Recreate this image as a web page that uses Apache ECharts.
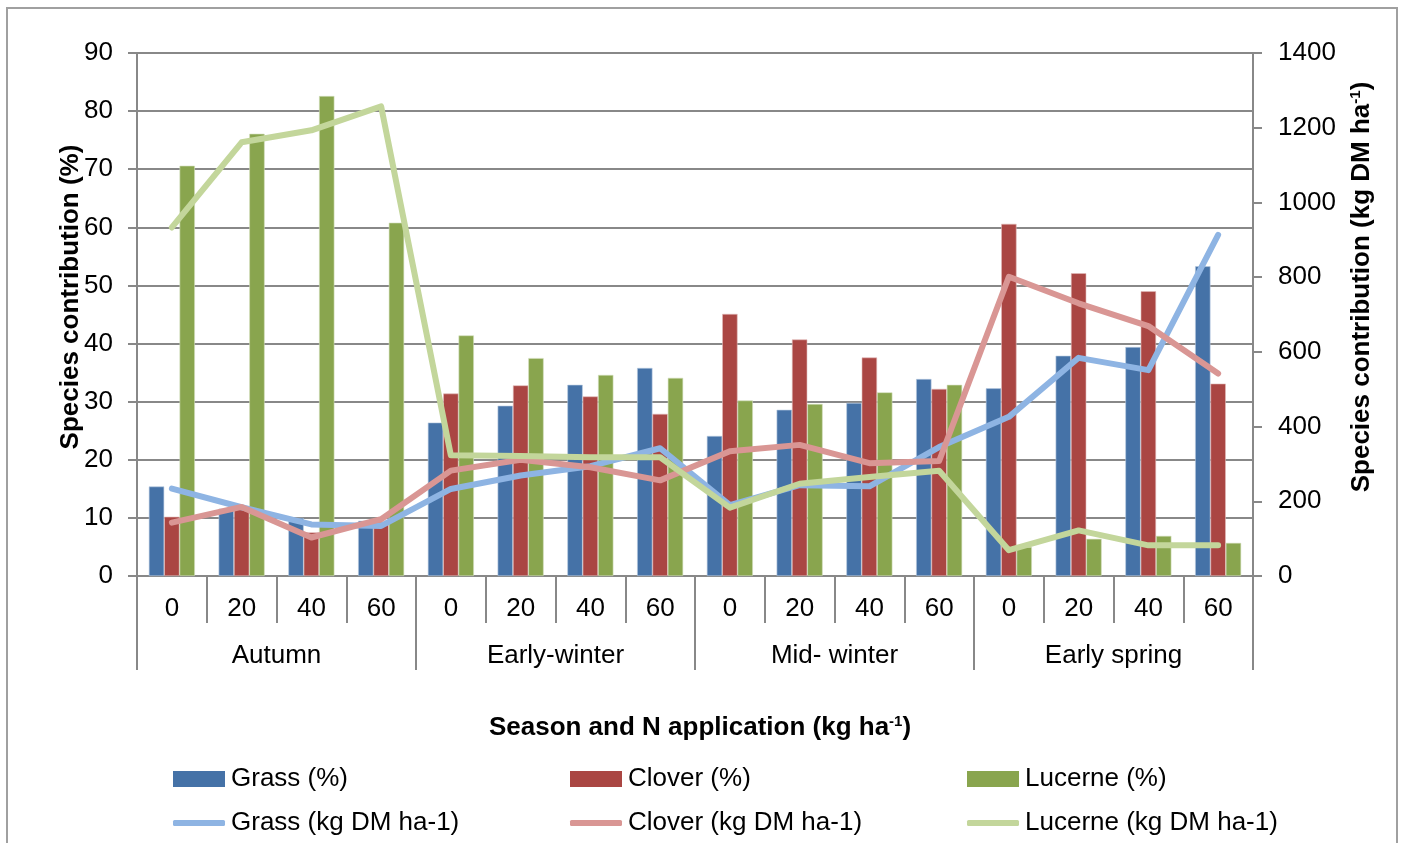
<!DOCTYPE html>
<html>
<head>
<meta charset="utf-8">
<script src="https://cdn.jsdelivr.net/npm/echarts@6/dist/echarts.min.js"></script>
<style>
  html, body { margin: 0; padding: 0; background: #fff; }
  #chart { width: 1403px; height: 843px; }
</style>
</head>
<body>
<div id="chart"></div>
<script>
// N application rates (kg ha-1) within each season, and the seasons themselves
const nRates = ['0', '20', '40', '60', '0', '20', '40', '60', '0', '20', '40', '60', '0', '20', '40', '60'];
const seasons = ['Autumn', 'Early-winter', 'Mid- winter', 'Early spring'];

// Species contribution (%) - bars, left axis
const grassPct   = [15.4, 11.6, 10.0, 9.5, 26.4, 29.3, 32.9, 35.8, 24.1, 28.6, 29.8, 33.9, 32.3, 37.9, 39.4, 53.3];
const cloverPct  = [10.2, 12.0, 7.5, 9.3, 31.4, 32.8, 30.9, 27.9, 45.1, 40.7, 37.6, 32.2, 60.6, 52.1, 49.0, 33.1];
const lucernePct = [70.6, 76.1, 82.6, 60.8, 41.4, 37.5, 34.6, 34.1, 30.2, 29.6, 31.6, 32.9, 5.0, 6.4, 6.9, 5.7];

// Species contribution (kg DM ha-1) - lines, right axis
const grassDM   = [234, 184, 138, 134, 233, 269, 294, 342, 190, 243, 240, 345, 426, 584, 551, 913];
const cloverDM  = [143, 185, 103, 152, 282, 311, 291, 256, 334, 351, 302, 308, 801, 730, 669, 542];
const lucerneDM = [933, 1161, 1193, 1257, 323, 321, 318, 318, 183, 247, 265, 282, 69, 122, 82, 82];

const FONT = '"Liberation Sans", Arial, sans-serif';
const GRAY = '#888888';
const FS = 26;

const chart = echarts.init(document.getElementById('chart'), null, { renderer: 'canvas' });

function legendItem(name, left, top, isLine) {
  return {
    data: [{ name: name, icon: isLine ? 'roundRect' : 'rect' }],
    left: left,
    top: top,
    padding: 0,
    orient: 'horizontal',
    itemWidth: 52,
    itemHeight: isLine ? 6 : 16,
    itemGap: 0,
    itemStyle: { borderWidth: 0 },
    selectedMode: false,
    textStyle: { fontFamily: FONT, fontSize: FS, color: '#000', padding: [0, 0, 0, 1] }
  };
}

const boldRich = {
  a: { fontFamily: FONT, fontSize: FS, fontWeight: 'bold', fill: '#000', color: '#000' },
  s: { fontFamily: FONT, fontSize: 15, fontWeight: 'bold', fill: '#000', color: '#000', padding: [0, 0, 13, 0] }
};

const option = {
  backgroundColor: '#ffffff',
  animation: false,
  textStyle: { fontFamily: FONT },
  grid: { left: 137, right: 150, top: 53, bottom: 267, containLabel: false },
  legend: [
    legendItem('Grass (%)', 173, 766, false),
    legendItem('Clover (%)', 570, 766, false),
    legendItem('Lucerne (%)', 967, 766, false),
    legendItem('Grass (kg DM ha-1)', 173, 810, true),
    legendItem('Clover (kg DM ha-1)', 570, 810, true),
    legendItem('Lucerne (kg DM ha-1)', 967, 810, true)
  ],
  xAxis: [
    {
      type: 'category',
      data: nRates,
      boundaryGap: true,
      axisLine: { show: true, lineStyle: { color: GRAY, width: 2 } },
      axisTick: { show: true, interval: 0, length: 47, lineStyle: { color: GRAY, width: 2 } },
      axisLabel: { interval: 0, margin: 20, fontFamily: FONT, fontSize: FS, color: '#000' },
      splitLine: { show: false }
    },
    {
      type: 'category',
      data: seasons,
      position: 'bottom',
      boundaryGap: true,
      axisLine: { show: false },
      axisTick: { show: true, interval: 0, length: 94, lineStyle: { color: GRAY, width: 2 } },
      axisLabel: { interval: 0, margin: 67, fontFamily: FONT, fontSize: FS, color: '#000' },
      splitLine: { show: false }
    }
  ],
  yAxis: [
    {
      type: 'value',
      min: 0, max: 90, interval: 10,
      position: 'left',
      axisLine: { show: true, lineStyle: { color: GRAY, width: 2 } },
      axisTick: { show: true, inside: false, length: 9, lineStyle: { color: GRAY, width: 2 } },
      axisLabel: { margin: 24, fontFamily: FONT, fontSize: FS, color: '#000' },
      splitLine: { show: true, lineStyle: { color: GRAY, width: 2 } }
    },
    {
      type: 'value',
      min: 0, max: 1400, interval: 200,
      position: 'right',
      axisLine: { show: true, lineStyle: { color: GRAY, width: 2 } },
      axisTick: { show: true, inside: false, length: 9, lineStyle: { color: GRAY, width: 2 } },
      axisLabel: { margin: 25, fontFamily: FONT, fontSize: FS, color: '#000', formatter: v => String(v) },
      splitLine: { show: false }
    }
  ],
  series: [
    { name: 'Grass (%)', type: 'bar', data: grassPct, xAxisIndex: 0, yAxisIndex: 0,
      barGap: '0%', barCategoryGap: '34%',
      itemStyle: { color: '#4572A7', borderColor: '#b9cbe0', borderWidth: 0.6 } },
    { name: 'Clover (%)', type: 'bar', data: cloverPct, xAxisIndex: 0, yAxisIndex: 0,
      barGap: '0%', barCategoryGap: '34%',
      itemStyle: { color: '#AA4643', borderColor: '#e2bcbb', borderWidth: 0.6 } },
    { name: 'Lucerne (%)', type: 'bar', data: lucernePct, xAxisIndex: 0, yAxisIndex: 0,
      barGap: '0%', barCategoryGap: '34%',
      itemStyle: { color: '#89A54E', borderColor: '#d3dfbd', borderWidth: 0.6 } },
    { name: 'Grass (kg DM ha-1)', type: 'line', data: grassDM, xAxisIndex: 0, yAxisIndex: 1,
      symbol: 'none', lineStyle: { color: '#8EB4E3', width: 6, cap: 'round', join: 'round' }, itemStyle: { color: '#8EB4E3' } },
    { name: 'Clover (kg DM ha-1)', type: 'line', data: cloverDM, xAxisIndex: 0, yAxisIndex: 1,
      symbol: 'none', lineStyle: { color: '#D99694', width: 6, cap: 'round', join: 'round' }, itemStyle: { color: '#D99694' } },
    { name: 'Lucerne (kg DM ha-1)', type: 'line', data: lucerneDM, xAxisIndex: 0, yAxisIndex: 1,
      symbol: 'none', lineStyle: { color: '#C3D69B', width: 6, cap: 'round', join: 'round' }, itemStyle: { color: '#C3D69B' } }
  ],
  graphic: [
    {
      type: 'rect',
      shape: { x: 7, y: 8, width: 1390, height: 850 },
      style: { fill: 'none', stroke: '#a0a0a0', lineWidth: 2 },
      silent: true,
      z: -10
    },
    {
      // left axis title
      type: 'text',
      x: 71, y: 297,
      rotation: Math.PI / 2,
      silent: true,
      style: {
        text: 'Species contribution (%)',
        x: 0, y: 0,
        align: 'center', verticalAlign: 'middle',
        font: 'bold ' + FS + 'px ' + FONT,
        fill: '#000'
      }
    },
    {
      // right axis title
      type: 'text',
      x: 1362, y: 287,
      rotation: Math.PI / 2,
      silent: true,
      style: {
        text: '{a|Species contribution (kg DM ha}{s|-1}{a|)}',
        x: 0, y: 0,
        align: 'center', verticalAlign: 'middle',
        rich: boldRich
      }
    },
    {
      // category axis title
      type: 'text',
      x: 700, y: 728,
      silent: true,
      style: {
        text: '{a|Season and N application (kg ha}{s|-1}{a|)}',
        x: 0, y: 0,
        align: 'center', verticalAlign: 'middle',
        rich: boldRich
      }
    }
  ]
};

chart.setOption(option);
</script>
</body>
</html>
